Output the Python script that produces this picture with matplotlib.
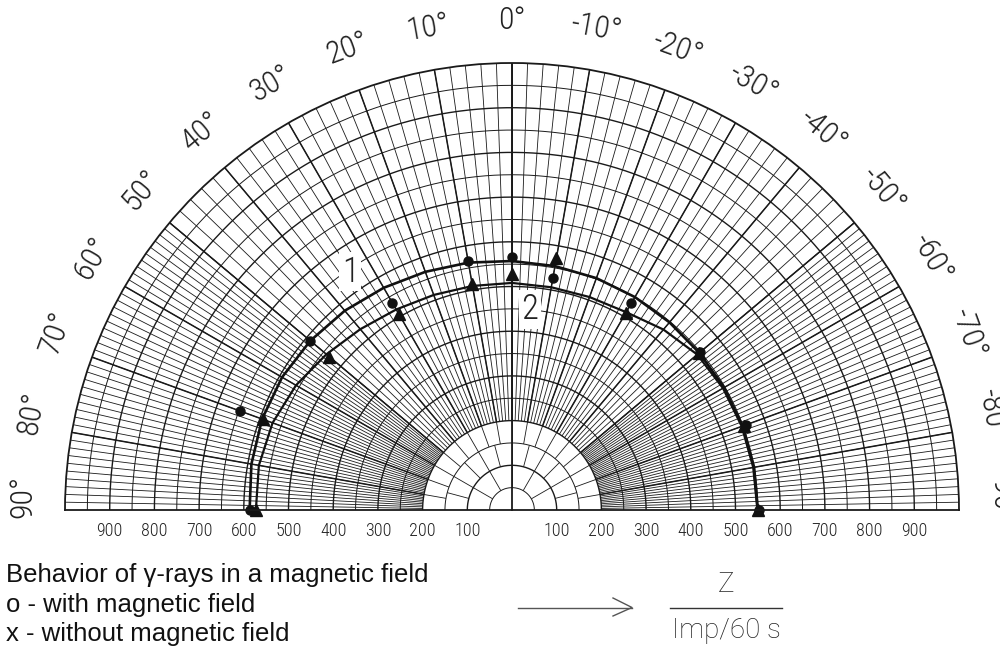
import numpy as np
import matplotlib
matplotlib.use("Agg")
import matplotlib.pyplot as plt

# angles in degrees, 0 = up, positive to the left; radius in Imp/60 s
curve_theta = [90, 80, 70, 60, 50, 40, 30, 20, 10, 0, -10, -20, -30, -40, -50, -60, -70, -80, -90]
curve1_r = [587, 592, 595, 594, 589, 582, 574, 567, 562, 557, 554, 552, 550, 548, 547, 548, 549, 550, 550]
curve2_r = [573, 575, 570, 558, 542, 528, 518, 512, 509, 508, 506, 507, 511, 527, 541, 545, 547, 548, 549]

point_theta = [90, 70, 50, 30, 10, 0, -10, -30, -50, -70, -90]
with_field = [587, 647, 589, 535, 565, 567, 528, 534, 550, 556, 552]
without_field = [573, 593, 534, 507, 514, 527, 572, 508, 546, 552, 550]

r_labels = [100, 200, 300, 400, 500, 600, 700, 800, 900]
angle_labels = [90, 80, 70, 60, 50, 40, 30, 20, 10, 0, -10, -20, -30, -40, -50, -60, -70, -80, -90]

stroke = dict(family=['Roboto Condensed', 'Roboto', 'DejaVu Sans'], fontweight='light', color='#222222')
ink = '#1a1a1a'

fig = plt.figure(figsize=(10, 6.48), dpi=100)
# square box, the half disc sits in the middle of it
ax = fig.add_axes([65 / 1000, (648 - 733.5) / 648, 894 / 1000, 894 / 648], projection='polar')
ax.set_theta_zero_location('N')
ax.set_theta_direction(1)
ax.set_thetamin(-90)
ax.set_thetamax(90)
ax.set_ylim(0, 1000)
ax.set_xticks([])
ax.set_yticks([])
ax.grid(False)
for s in ax.spines.values():
    s.set_linewidth(1.3)
    s.set_color(ink)

# polar paper: circles every 50
th = np.radians(np.linspace(-90, 90, 1441))
for r in range(50, 1000, 50):
    ax.plot(th, np.full_like(th, r), color=ink, lw=1.0 if r % 100 == 0 else 0.7)

# radial rulings: coarse near the pole, 2 deg near the top, 1 deg towards the base
def rays(r0, r1, step, lo=0, hi=90):
    a = np.arange(-90 + step, 90, step)
    a = a[(np.abs(a) >= lo - 1e-9) & (np.abs(a) <= hi + 1e-9)]
    ax.vlines(np.radians(a), r0, r1, color=ink, lw=0.6)

rays(50, 100, 30)
rays(100, 150, 15)
rays(150, 200, 10)
rays(200, 1000, 2, hi=50)
rays(200, 1000, 1, lo=50)
big = np.arange(-80, 90, 10)
ax.vlines(np.radians(big), 200, 1000, color=ink, lw=1.1)
ax.vlines([0], 0, 1000, color=ink, lw=1.3)

# curves and measured points
ax.plot(np.radians(curve_theta), curve1_r, color='#111111', lw=1.9)
ax.plot(np.radians(curve_theta), curve2_r, color='#111111', lw=1.6)
ax.plot(np.radians(point_theta), with_field, 'o', color='#111111', ms=6.5, clip_on=False)
ax.plot(np.radians(point_theta), without_field, '^', color='#111111', ms=8, clip_on=False)

ax.text(np.radians(34.2), 644, '1', ha='center', va='center', fontsize=25, zorder=5,
        bbox=dict(fc='white', ec='none', pad=2), **stroke)
ax.text(np.radians(-5.1), 450, '2', ha='center', va='center', fontsize=25, zorder=5,
        bbox=dict(fc='white', ec='none', pad=2), **stroke)

# scale labels
for r in r_labels:
    for t in (90, -90):
        ax.annotate(str(r), xy=(np.radians(t), r), xytext=(0, -15), textcoords='offset points',
                    ha='center', va='center', fontsize=13, annotation_clip=False, **stroke)

for a in angle_labels:
    ax.text(np.radians(a * 0.983), 1095, f'{a}°', rotation=a, rotation_mode='anchor',
            ha='center', va='center', fontsize=23, clip_on=False, **stroke)

# caption
cap = dict(family=['Liberation Sans', 'DejaVu Sans'], fontsize=18.5, color='#111111')
fig.text(0.006, 1 - 582 / 648, 'Behavior of γ-rays in a magnetic field', **cap)
fig.text(0.006, 1 - 612 / 648, 'o - with magnetic field', **cap)
fig.text(0.006, 1 - 641 / 648, 'x - without magnetic field', **cap)

fig.add_artist(plt.Line2D([0.518, 0.632], [1 - 607.5 / 648] * 2, color='#555555', lw=1.0))
fig.add_artist(plt.Line2D([0.613, 0.632, 0.613], [1 - 598 / 648, 1 - 607.5 / 648, 1 - 616 / 648],
                          color='#555555', lw=1.0))
fig.add_artist(plt.Line2D([0.670, 0.782], [1 - 607.5 / 648] * 2, color='#333333', lw=1.0))
frac = dict(family=['Roboto', 'DejaVu Sans'], fontweight='light', color='#222222', fontsize=20)
fig.text(0.726, 1 - 585 / 648, 'Z', ha='center', va='center', **frac)
fig.text(0.726, 1 - 631 / 648, 'Imp/60 s', ha='center', va='center', **frac)

fig.savefig('out.png', dpi=100)
